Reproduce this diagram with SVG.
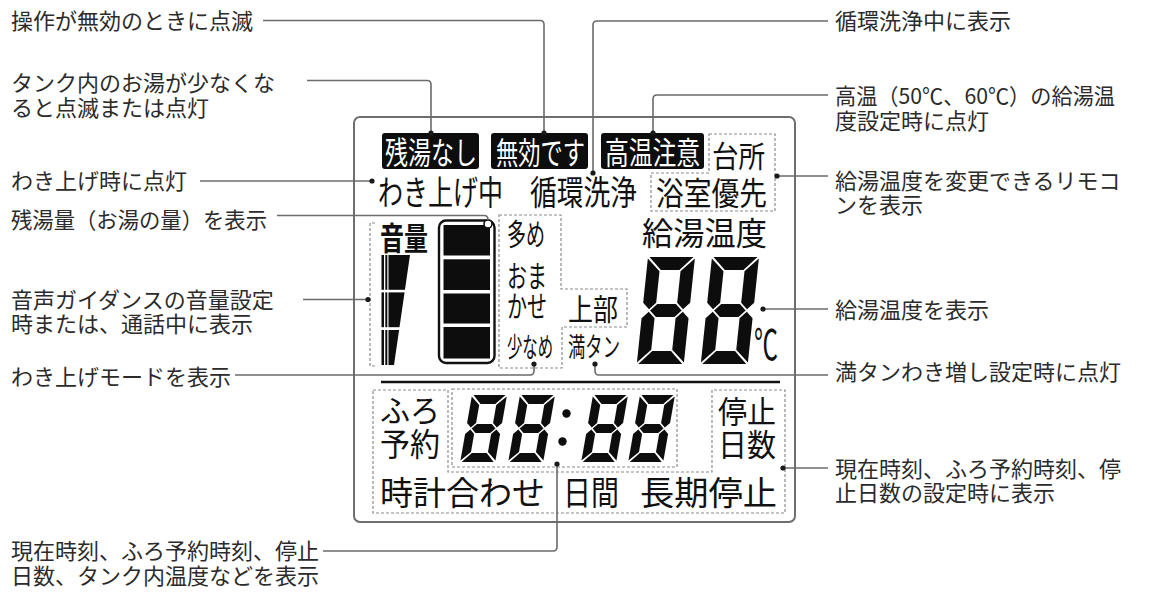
<svg xmlns="http://www.w3.org/2000/svg" xmlns:xlink="http://www.w3.org/1999/xlink" width="1150" height="592" viewBox="0 0 1150 592">
<style>
.lbl{font-family:"Noto Sans CJK JP","Noto Sans CJK SC",sans-serif;font-size:22px;fill:#2b2b2b}
.lcd{font-family:"Noto Sans CJK JP","Noto Sans CJK SC",sans-serif;fill:#111}
.inv{font-family:"Noto Sans CJK JP","Noto Sans CJK SC",sans-serif;fill:#fff}
.conn{fill:none;stroke:#6b6b6b;stroke-width:1.6}
.dash{fill:none;stroke:#8c8c8c;stroke-width:1.2;stroke-dasharray:3 2}
.dot{fill:#1a1a1a}
.seg{fill:#0d0d0d}
.blk{fill:#0d0d0d}
</style>
<defs>
<g id="dgBig" class="seg">
<polygon points="1.5,0 45.5,0 32.8,13 14.2,13"/>
<polygon points="0,1.5 13,14.2 13,45.8 6.5,52.3 0,45.8"/>
<polygon points="47,1.5 47,45.8 40.5,52.3 34,45.8 34,14.2"/>
<polygon points="7.7,53.5 14.2,47 32.8,47 39.3,53.5 32.8,60 14.2,60"/>
<polygon points="0,61.2 6.5,54.7 13,61.2 13,92.8 0,105.5"/>
<polygon points="47,61.2 40.5,54.7 34,61.2 34,92.8 47,105.5"/>
<polygon points="1.5,107 45.5,107 32.8,94 14.2,94"/>
</g>
<g id="dgSmall" class="seg">
<polygon points="1.5,0 33.5,0 24.9,9 10.1,9"/>
<polygon points="0,1.5 9,10.1 9,27.9 4.5,32.4 0,27.9"/>
<polygon points="35,1.5 35,27.9 30.5,32.4 26,27.9 26,10.1"/>
<polygon points="5.6,33.5 10.1,29 24.9,29 29.4,33.5 24.9,38 10.1,38"/>
<polygon points="0,39.1 4.5,34.6 9,39.1 9,56.9 0,65.5"/>
<polygon points="35,39.1 30.5,34.6 26,39.1 26,56.9 35,65.5"/>
<polygon points="1.5,67 33.5,67 24.9,58 10.1,58"/>
</g>
</defs>
<rect width="1150" height="592" fill="#fff"/>

<g id="panel">
<rect x="354" y="117" width="441" height="405" rx="6" fill="#fff" stroke="#6e6e6e" stroke-width="2"/>
<line x1="381" y1="382" x2="780" y2="382" stroke="#111" stroke-width="2.6"/>
</g>

<g id="zanyu-nashi">
<rect x="382" y="133" width="97" height="36" rx="3" class="blk"/>
<text class="inv" x="385" y="164" font-size="31" textLength="92" lengthAdjust="spacingAndGlyphs">残湯なし</text>
</g>
<g id="mukou-desu">
<rect x="491" y="133" width="97" height="36" rx="3" class="blk"/>
<text class="inv" x="496" y="164" font-size="31" textLength="89" lengthAdjust="spacingAndGlyphs">無効です</text>
</g>
<g id="kouon-chui">
<rect x="601" y="133" width="103" height="36" rx="3" class="blk"/>
<text class="inv" x="605" y="164" font-size="31" textLength="95" lengthAdjust="spacingAndGlyphs">高温注意</text>
</g>
<g id="remocon-select">
<polygon class="dash" points="709,134 775,134 775,211 651,211 651,173 709,173"/>
<text class="lcd" x="712" y="166.5" font-size="30" textLength="53" lengthAdjust="spacingAndGlyphs">台所</text>
<text class="lcd" x="656" y="204.5" font-size="32" textLength="111" lengthAdjust="spacingAndGlyphs">浴室優先</text>
</g>
<g id="wakiage-chu">
<text class="lcd" x="378" y="204.5" font-size="34" textLength="125" lengthAdjust="spacingAndGlyphs">わき上げ中</text>
</g>
<g id="junkan-senjo">
<text class="lcd" x="530" y="204.5" font-size="34" textLength="107" lengthAdjust="spacingAndGlyphs">循環洗浄</text>
</g>

<g id="volume">
<path class="dash" d="M375,223 H370 V366 H375"/>
<text class="lcd" x="380" y="249.5" font-size="32" font-weight="700" textLength="48" lengthAdjust="spacingAndGlyphs">音量</text>
<rect x="381.5" y="255" width="2.5" height="110" class="blk"/>
<rect x="385.3" y="255" width="2" height="110" class="blk"/>
<polygon points="388.5,255 410,255 394,365 388.5,365" class="blk"/>
<rect x="380" y="289.8" width="32" height="2.6" fill="#fff"/>
<rect x="380" y="327.2" width="32" height="2.8" fill="#fff"/>
</g>

<g id="remaining-water">
<rect x="439" y="220.5" width="55.5" height="142.5" rx="7" fill="#fff" stroke="#111" stroke-width="2.4"/>
<rect x="443.5" y="225" width="46.5" height="30.5" class="blk"/>
<rect x="443.5" y="259.3" width="46.5" height="30.7" class="blk"/>
<rect x="443.5" y="293.5" width="46.5" height="30" class="blk"/>
<rect x="443.5" y="327" width="46.5" height="31.5" class="blk"/>
<circle cx="488" cy="224" r="4" fill="#fff" stroke="#111" stroke-width="1.6"/>
</g>

<g id="wakiage-mode">
<polygon class="dash" points="499,215 561,215 561,289 627,289 627,327 562,327 562,368 499,368"/>
<text class="lcd" x="507" y="245" font-size="30" textLength="38" lengthAdjust="spacingAndGlyphs">多め</text>
<text class="lcd" x="507" y="286.5" font-size="30" textLength="40" lengthAdjust="spacingAndGlyphs">おま</text>
<text class="lcd" x="507" y="316.5" font-size="30" textLength="40" lengthAdjust="spacingAndGlyphs">かせ</text>
<text class="lcd" x="507" y="356.5" font-size="27" textLength="46" lengthAdjust="spacingAndGlyphs">少なめ</text>
<text class="lcd" x="568" y="320" font-size="30" textLength="50" lengthAdjust="spacingAndGlyphs">上部</text>
</g>
<g id="mantan">
<text class="lcd" x="568" y="357" font-size="27" textLength="52" lengthAdjust="spacingAndGlyphs">満タン</text>
</g>

<g id="supply-temp">
<text class="lcd" x="642" y="245" font-size="32" textLength="125" lengthAdjust="spacingAndGlyphs">給湯温度</text>
<use href="#dgBig" transform="translate(648,257) skewX(-6)"/>
<use href="#dgBig" transform="translate(712,257) skewX(-6)"/>
<text class="lcd" x="754" y="360" font-size="42" textLength="24" lengthAdjust="spacingAndGlyphs">℃</text>
</g>

<g id="bottom-area">
<polygon class="dash" points="373,390 448,390 448,472 712,472 712,390 785,390 785,513 373,513"/>
<text class="lcd" x="380" y="421.5" font-size="31" textLength="60" lengthAdjust="spacingAndGlyphs">ふろ</text>
<text class="lcd" x="380" y="456" font-size="32" textLength="60" lengthAdjust="spacingAndGlyphs">予約</text>
<text class="lcd" x="718" y="423" font-size="31" textLength="58" lengthAdjust="spacingAndGlyphs">停止</text>
<text class="lcd" x="718" y="456" font-size="31" textLength="58" lengthAdjust="spacingAndGlyphs">日数</text>
<text class="lcd" x="380" y="504.5" font-size="33" textLength="165" lengthAdjust="spacingAndGlyphs">時計合わせ</text>
<text class="lcd" x="563" y="504.5" font-size="33" textLength="56" lengthAdjust="spacingAndGlyphs">日間</text>
<text class="lcd" x="640" y="504.5" font-size="33" textLength="137" lengthAdjust="spacingAndGlyphs">長期停止</text>
</g>
<g id="clock">
<rect class="dash" x="452" y="389" width="225" height="78"/>
<use href="#dgSmall" transform="translate(472,395) skewX(-10)"/>
<use href="#dgSmall" transform="translate(520,395) skewX(-10)"/>
<circle cx="566.5" cy="413.5" r="4.2" class="blk"/>
<circle cx="562.5" cy="441.5" r="4.2" class="blk"/>
<use href="#dgSmall" transform="translate(593,395) skewX(-10)"/>
<use href="#dgSmall" transform="translate(640,395) skewX(-10)"/>
</g>

<g id="connectors">
<path class="conn" d="M263,20.5 H540 Q544,20.5 544,24.5 V133"/>
<path class="conn" d="M307,80.5 H427 Q431,80.5 431,84.5 V133"/>
<path class="conn" d="M200,181 H372"/>
<path class="conn" d="M277,215.5 H484 Q488,215.5 488,219.5 V220"/>
<path class="conn" d="M303,299.5 H368"/>
<path class="conn" d="M235,375 H530 Q534,375 534,371 V364"/>
<path class="conn" d="M323,551 H553 Q557,551 557,547 V464"/>
<path class="conn" d="M593,173 V25 Q593,21 597,21 H828"/>
<path class="conn" d="M653,133 V99 Q653,95 657,95 H828"/>
<path class="conn" d="M777,176 H828"/>
<path class="conn" d="M763,309 H828"/>
<path class="conn" d="M595,364 V371 Q595,375 599,375 H828"/>
<path class="conn" d="M783,468 H828"/>
<circle class="dot" cx="544" cy="133" r="2.6"/>
<circle class="dot" cx="431" cy="133" r="2.6"/>
<circle class="dot" cx="372" cy="181" r="2.6"/>
<circle class="dot" cx="368" cy="299.5" r="2.6"/>
<circle class="dot" cx="534" cy="364" r="2.6"/>
<circle class="dot" cx="557" cy="464" r="2.6"/>
<circle class="dot" cx="593" cy="173" r="2.6"/>
<circle class="dot" cx="653" cy="133" r="2.6"/>
<circle class="dot" cx="777" cy="176" r="2.6"/>
<circle class="dot" cx="763" cy="309" r="2.6"/>
<circle class="dot" cx="595" cy="364" r="2.6"/>
<circle class="dot" cx="783" cy="468" r="2.6"/>
</g>

<g id="labels-left">
<text class="lbl" x="11" y="28.5">操作が無効のときに点滅</text>
<text class="lbl" x="11" y="91">タンク内のお湯が少なくな</text>
<text class="lbl" x="11" y="116">ると点滅または点灯</text>
<text class="lbl" x="11" y="188.5">わき上げ時に点灯</text>
<text class="lbl" x="11" y="228" textLength="256" lengthAdjust="spacingAndGlyphs">残湯量（お湯の量）を表示</text>
<text class="lbl" x="11" y="308">音声ガイダンスの音量設定</text>
<text class="lbl" x="11" y="332">時または、通話中に表示</text>
<text class="lbl" x="11" y="385">わき上げモードを表示</text>
<text class="lbl" x="11" y="559">現在時刻、ふろ予約時刻、停止</text>
<text class="lbl" x="11" y="584">日数、タンク内温度などを表示</text>
</g>
<g id="labels-right">
<text class="lbl" x="835" y="28.5">循環洗浄中に表示</text>
<text class="lbl" x="835" y="104" textLength="280" lengthAdjust="spacingAndGlyphs">高温（50℃、60℃）の給湯温</text>
<text class="lbl" x="835" y="128.5">度設定時に点灯</text>
<text class="lbl" x="835" y="188.5">給湯温度を変更できるリモコ</text>
<text class="lbl" x="835" y="213">ンを表示</text>
<text class="lbl" x="835" y="317.5">給湯温度を表示</text>
<text class="lbl" x="835" y="379.5">満タンわき増し設定時に点灯</text>
<text class="lbl" x="835" y="476.5">現在時刻、ふろ予約時刻、停</text>
<text class="lbl" x="835" y="501">止日数の設定時に表示</text>
</g>
</svg>
